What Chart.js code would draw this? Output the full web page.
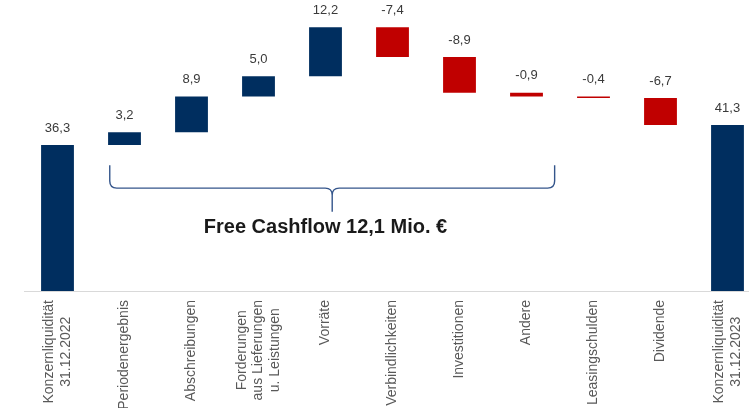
<!DOCTYPE html>
<html>
<head>
<meta charset="utf-8">
<script src="https://cdn.jsdelivr.net/npm/chart.js@4.4.1/dist/chart.umd.min.js"></script>
<style>
    html, body { margin: 0; padding: 0; background: #fff; overflow: hidden; }
    #wrap { width: 761px; height: 408px; }
</style>
</head>
<body>
<div id="wrap"><canvas id="cashflow" width="761" height="408"></canvas></div>
<script>
// categories shown under the axis (arrays = multi line labels)
const categories = [
    ['Konzernliquidität', '31.12.2022'],
    'Periodenergebnis',
    'Abschreibungen',
    ['Forderungen', 'aus Lieferungen', 'u. Leistungen'],
    'Vorräte',
    'Verbindlichkeiten',
    'Investitionen',
    'Andere',
    'Leasingschulden',
    'Dividende',
    ['Konzernliquidität', '31.12.2023']
];

// Mio. €, first and last are totals, the rest are changes
const values = [36.3, 3.2, 8.9, 5.0, 12.2, -7.4, -8.9, -0.9, -0.4, -6.7, 41.3];
const isTotal = [true, false, false, false, false, false, false, false, false, false, true];

const freeCashflowText = 'Free Cashflow 12,1 Mio. €';

const navy = '#002e5f';
const red = '#c00000';

// build floating bars [start, end]
let running = 0;
const floatingData = [];
const barColors = [];
for (let i = 0; i < values.length; i++) {
    if (isTotal[i]) {
        floatingData.push([0, values[i]]);
        running = values[i];
        barColors.push(navy);
    } else {
        floatingData.push([running, running + values[i]]);
        running += values[i];
        barColors.push(values[i] < 0 ? red : navy);
    }
}

function formatDe(v) {
    return v.toFixed(1).replace('.', ',');
}

// value labels above each bar
const valueLabels = {
    id: 'valueLabels',
    afterDatasetsDraw(chart) {
        const ctx = chart.ctx;
        const meta = chart.getDatasetMeta(0);
        ctx.save();
        ctx.font = '13px "Liberation Sans", Arial, sans-serif';
        ctx.fillStyle = '#3a3a3a';
        ctx.textAlign = 'center';
        ctx.textBaseline = 'middle';
        meta.data.forEach((bar, i) => {
            const top = Math.min(bar.y, bar.base);
            ctx.fillText(formatDe(values[i]), bar.x, top - 17);
        });
        ctx.restore();
    }
};

// rotated category labels, top aligned, lines centred
const categoryLabels = {
    id: 'categoryLabels',
    afterDraw(chart) {
        const ctx = chart.ctx;
        const xScale = chart.scales.x;
        const topY = chart.chartArea.bottom + 9;
        const lineH = 16.5;
        ctx.save();
        ctx.font = '14px "Liberation Sans", Arial, sans-serif';
        ctx.fillStyle = '#595959';
        ctx.textAlign = 'center';
        ctx.textBaseline = 'middle';
        categories.forEach((cat, i) => {
            const lines = Array.isArray(cat) ? cat : [cat];
            const x = xScale.getPixelForTick(i);
            let maxW = 0;
            lines.forEach(l => { maxW = Math.max(maxW, ctx.measureText(l).width); });
            lines.forEach((l, j) => {
                const lx = x + (j - (lines.length - 1) / 2) * lineH;
                ctx.save();
                ctx.translate(lx, topY + maxW / 2);
                ctx.rotate(-Math.PI / 2);
                ctx.fillText(l, 0, 0);
                ctx.restore();
            });
        });
        ctx.restore();
    }
};

// curly brace + free cashflow caption
const brace = {
    id: 'brace',
    afterDraw(chart, args, opts) {
        const ctx = chart.ctx;
        const xs = chart.scales.x;
        const ys = chart.scales.y;
        const x0 = xs.getPixelForValue(opts.from);
        const x1 = xs.getPixelForValue(opts.to);
        const xc = (x0 + x1) / 2;
        const yTop = ys.getPixelForValue(opts.top);
        const yMid = ys.getPixelForValue(opts.mid);
        const yTip = ys.getPixelForValue(opts.tip);
        const r = 7;

        ctx.save();
        ctx.strokeStyle = '#34558b';
        ctx.lineWidth = 1.4;
        ctx.beginPath();
        ctx.moveTo(x0, yTop);
        ctx.lineTo(x0, yMid - r);
        ctx.quadraticCurveTo(x0, yMid, x0 + r, yMid);
        ctx.lineTo(xc - r, yMid);
        ctx.quadraticCurveTo(xc, yMid, xc, yMid + r);
        ctx.lineTo(xc, yTip);
        ctx.moveTo(xc, yMid + r);
        ctx.quadraticCurveTo(xc, yMid, xc + r, yMid);
        ctx.lineTo(x1 - r, yMid);
        ctx.quadraticCurveTo(x1, yMid, x1, yMid - r);
        ctx.lineTo(x1, yTop);
        ctx.stroke();

        ctx.font = 'bold 20px "Liberation Sans", Arial, sans-serif';
        ctx.fillStyle = '#1a1a1a';
        ctx.textAlign = 'center';
        ctx.textBaseline = 'middle';
        ctx.fillText(freeCashflowText, xs.getPixelForValue(opts.textAt), ys.getPixelForValue(opts.textY));
        ctx.restore();
    }
};

new Chart(document.getElementById('cashflow'), {
    type: 'bar',
    data: {
        labels: categories,
        datasets: [{
            data: floatingData,
            backgroundColor: barColors,
            borderWidth: 0,
            borderSkipped: false,
            barPercentage: 0.49,
            categoryPercentage: 1.0
        }]
    },
    options: {
        responsive: false,
        animation: false,
        layout: {
            padding: { left: 24, right: 0, top: 0, bottom: 117 }
        },
        plugins: {
            legend: { display: false },
            tooltip: { enabled: false },
            brace: { from: 0.78, to: 7.42, top: 31.3, mid: 25.6, tip: 19.7, textAt: 4.0, textY: 15.9 }
        },
        scales: {
            x: {
                grid: { display: false, drawTicks: false },
                border: { display: true, color: '#d9d9d9', width: 1 },
                ticks: { display: false },
                afterFit: s => { s.height = 0; }
            },
            y: {
                display: false,
                min: 0,
                max: 72.4
            }
        }
    },
    plugins: [valueLabels, categoryLabels, brace]
});
</script>
</body>
</html>
